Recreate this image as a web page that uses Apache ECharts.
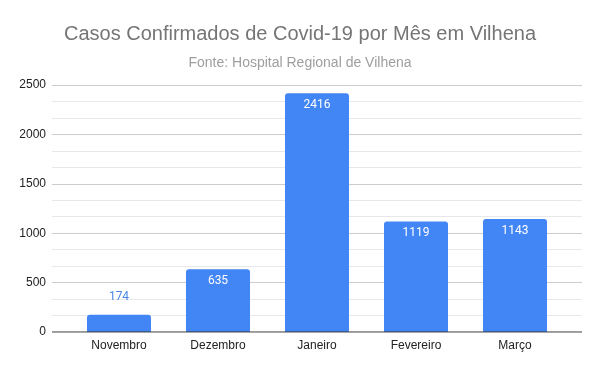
<!DOCTYPE html>
<html><head><meta charset="utf-8">
<script src="https://cdn.jsdelivr.net/npm/echarts@6/dist/echarts.min.js"></script>
<style>html,body{margin:0;padding:0;background:#fff}#c{width:600px;height:371px}</style>
</head><body><div id="c"></div>
<script>
const categories = ['Novembro','Dezembro','Janeiro','Fevereiro','Março'];
const casos = [174, 635, 2416, 1119, 1143];
const yTicks = [0, 500, 1000, 1500, 2000, 2500];

const font = 'Liberation Sans, Arial, sans-serif';
const chart = echarts.init(document.getElementById('c'));
chart.setOption({
  backgroundColor: '#fff',
  animation: false,
  title: [
    {text: 'Casos Confirmados de Covid-19 por Mês em Vilhena', left: 'center', top: 19,
     textStyle: {fontFamily: font, fontSize: 20, fontWeight: 'normal', color: '#757575'}},
    {text: 'Fonte: Hospital Regional de Vilhena', left: 'center', top: 51,
     textStyle: {fontFamily: font, fontSize: 14, fontWeight: 'normal', color: '#9e9e9e'}}
  ],
  grid: [
    {left: 52, right: 18, top: 85, bottom: 39},
    {left: 69.5, right: 35.5, top: 85, bottom: 39}
  ],
  xAxis: [
    {gridIndex: 0, type: 'value', show: false, min: 0, max: 1},
    {gridIndex: 1, type: 'category', data: categories,
     axisLine: {show: false}, axisTick: {show: false},
     axisLabel: {fontFamily: font, fontSize: 12, color: '#222', margin: 8}}
  ],
  yAxis: [
    {gridIndex: 0, type: 'value', min: yTicks[0], max: yTicks[yTicks.length-1], interval: 500,
     axisLine: {show: false}, axisTick: {show: false},
     axisLabel: {fontFamily: font, fontSize: 12, color: '#222', margin: 6, formatter: v => String(v)},
     splitLine: {show: true, lineStyle: {color: '#cccccc', width: 1}},
     minorTick: {show: false, splitNumber: 3},
     minorSplitLine: {show: true, lineStyle: {color: '#e8e8e8', width: 1}}},
    {gridIndex: 1, type: 'value', min: yTicks[0], max: yTicks[yTicks.length-1], interval: 500,
     show: false, splitLine: {show: false}}
  ],
  series: [
    {type: 'line', xAxisIndex: 0, yAxisIndex: 0, data: [[0,0],[1,0]], symbol: 'none',
     lineStyle: {color: '#333', width: 1}, silent: true, z: 5},
    {type: 'bar', xAxisIndex: 1, yAxisIndex: 1, data: casos.map((v, i) => (
        v < 400 ? {value: v, label: {position: 'top', distance: 12, color: '#4a86e8'}} : v)),
     barWidth: 64,
     itemStyle: {color: '#4285f4', borderRadius: [3,3,0,0]},
     label: {show: true, position: 'insideTop', distance: 6, fontFamily: 'Roboto, ' + font,
             fontSize: 12, color: '#ffffff'}, z: 2}
  ]
});
</script></body></html>
